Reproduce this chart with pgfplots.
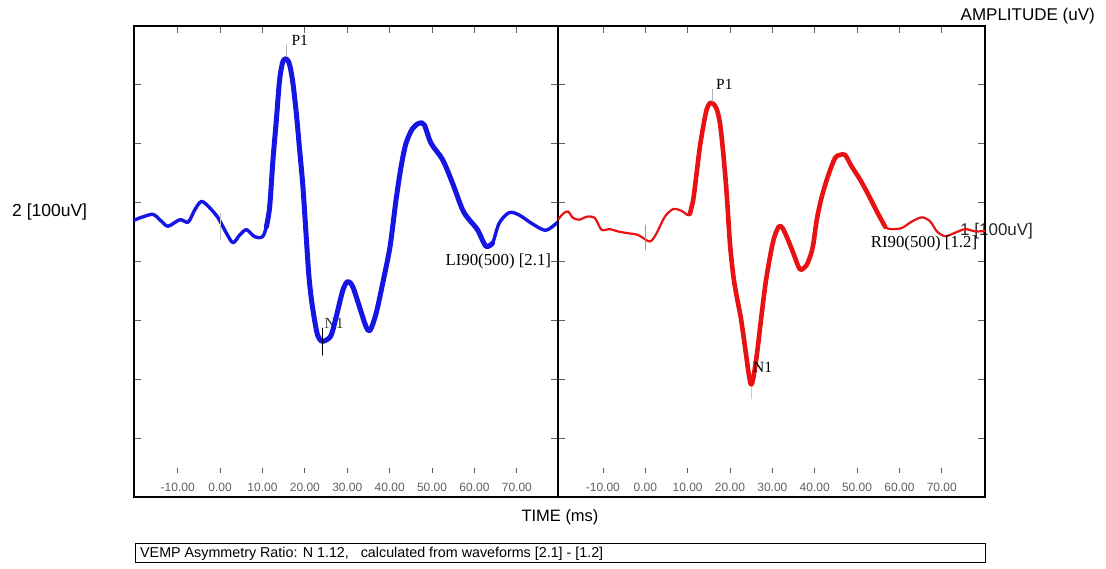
\documentclass[border=0pt]{standalone}
\usepackage{fontspec}
\setmainfont{Liberation Sans}
\newfontfamily\serifface{Liberation Serif}
\usepackage{pgfplots}
\usepackage{pgfplotstable}
\pgfplotsset{compat=1.18}
\definecolor{wblue}{RGB}{22,22,228}
\definecolor{wred}{RGB}{232,18,18}
\definecolor{tickgray}{RGB}{95,95,95}

\pgfplotstableread{
x y
-20.3 0.70
-19.66 0.72
-18.11 0.76
-15.76 0.80
-13.78 0.68
-12.23 0.60
-9.48 0.71
-7.52 0.67
-5.95 0.88
-4.37 1.02
-2.42 0.91
-0.46 0.74
1.51 0.48
3.06 0.32
4.64 0.45
6.22 0.54
8.17 0.42
9.98 0.42
10.92 0.59
11.70 0.93
12.48 1.73
13.28 2.41
14.05 3.09
14.83 3.40
15.63 3.44
16.41 3.34
17.18 3.03
17.98 2.52
18.76 1.90
19.54 1.27
20.34 0.40
20.9 -0.20
21.5 -0.62
22.3 -1.00
23.0 -1.25
23.86 -1.35
24.9 -1.34
26.21 -1.25
27.39 -0.94
28.95 -0.49
30.12 -0.34
31.30 -0.43
32.88 -0.77
34.45 -1.11
35.39 -1.17
36.81 -0.88
38.36 -0.37
39.94 0.19
40.71 0.59
41.51 1.05
42.69 1.61
43.86 2.01
45.42 2.26
46.99 2.35
48.17 2.32
49.75 2.01
52.48 1.73
54.83 1.33
57.18 0.88
58.76 0.71
60.71 0.54
62.69 0.26
64.25 0.31
65.82 0.65
68.17 0.83
70.52 0.79
73.65 0.64
76.80 0.53
79.54 0.66
79.7 0.66
}\lefttrace

\pgfplotstableread{
x y
-20.6 0.71
-19.42 0.81
-18.24 0.85
-17.05 0.74
-15.47 0.71
-13.89 0.76
-11.92 0.74
-10.34 0.54
-8.38 0.55
-6.42 0.51
-4.05 0.48
-1.69 0.45
1.08 0.34
2.66 0.48
4.62 0.76
6.59 0.89
8.57 0.86
9.99 0.79
10.53 0.81
11.32 1.05
12.12 1.50
12.90 1.95
13.68 2.29
14.48 2.58
15.26 2.69
16.04 2.68
16.85 2.59
17.63 2.35
18.41 1.84
19.21 1.16
20.0 0.30
20.8 -0.25
21.6 -0.60
22.59 -0.97
23.6 -1.48
24.4 -1.90
24.96 -2.09
25.5 -1.98
26.4 -1.55
27.4 -0.94
28.4 -0.37
29.5 0.10
30.4 0.40
31.5 0.59
32.3 0.58
33.40 0.42
34.96 0.14
36.0 -0.06
36.70 -0.14
38.0 -0.07
39.0 0.10
39.68 0.30
40.49 0.71
41.67 1.10
43.23 1.47
44.81 1.76
46.0 1.81
47.18 1.81
48.76 1.61
50.72 1.39
52.69 1.13
54.67 0.85
56.63 0.59
58.22 0.55
60.58 0.57
62.95 0.68
65.31 0.75
67.27 0.68
68.86 0.51
70.82 0.43
73.18 0.49
75.55 0.55
77.91 0.51
80.2 0.52
}\righttrace

\pgfplotsset{panel/.style={
  scale only axis, height=471pt,
  ymin=-4, ymax=4, ytick={-3,-2,-1,0,1,2,3}, yticklabels={},
  xtick={-10,0,10,20,30,40,50,60,70},
  xticklabels={-10.00,0.00,10.00,20.00,30.00,40.00,50.00,60.00,70.00},
  xtick pos=upper, xticklabel pos=lower, ytick pos=both, tick align=inside,
  major tick length=7pt, tick style={tickgray, line width=0.8pt},
  axis line style={line width=2.8pt},
  xticklabel style={anchor=base, yshift=5.7pt, inner sep=0pt,
    font=\fontsize{12}{14.4}\selectfont, text=tickgray},
  every axis plot/.append style={smooth, line join=round, line cap=round},
}}
\newcommand\bottomticks{%
  \pgfplotsinvokeforeach{-10,0,10,20,30,40,50,60,70}{%
    \draw[tickgray, line width=0.8pt] ([yshift=23.7pt]axis cs:##1,-4) -- ([yshift=29.3pt]axis cs:##1,-4);}}

\begin{document}
\begin{tikzpicture}
\useasboundingbox (0,0) rectangle (1106pt,-568pt);

\begin{axis}[panel, at={(134pt,-26pt)}, anchor=north west, width=424pt,
  xmin=-20.3, xmax=79.7]
  \bottomticks
  \node[anchor=base west, inner sep=0pt, font=\serifface\fontsize{15.5}{18}\selectfont, text=black!80] at (axis cs:24.6,-1.13) {N1};
  \addplot[no marks, wblue, line width=3.4pt] table[x=x,y=y] {\lefttrace};
  \addplot[no marks, wblue, line width=5pt, restrict x to domain=10.9:64.3] table[x=x,y=y] {\lefttrace};
  \addplot[no marks, gray!60, line width=0.8pt, sharp plot] coordinates {(15.63,3.48) (15.63,3.68)};
  \addplot[no marks, black, line width=0.9pt, sharp plot] coordinates {(24.1,-1.13) (24.1,-1.59)};
  \addplot[no marks, gray!50, line width=0.8pt, sharp plot] coordinates {(0,0.82) (0,0.37)};
  \node[anchor=base west, inner sep=0pt, font=\serifface\fontsize{15.5}{18}\selectfont] at (axis cs:16.8,3.67) {P1};
  \node[anchor=base east, inner sep=0pt, font=\serifface\fontsize{16.8}{20}\selectfont] at (axis cs:78.1,-0.06) {LI90(500) [2.1]};
\end{axis}

\node[anchor=base west, inner sep=0pt, font=\fontsize{17}{20}\selectfont, text=black!85] at (960pt,-235pt) {1 [100uV]};

\begin{axis}[panel, at={(558pt,-26pt)}, anchor=north west, width=427pt,
  xmin=-20.6, xmax=80.2]
  \bottomticks
  \addplot[no marks, wred, line width=2.2pt] table[x=x,y=y] {\righttrace};
  \addplot[no marks, wred, line width=4.6pt, restrict x to domain=10.5:56.7] table[x=x,y=y] {\righttrace};
  \addplot[no marks, gray!60, line width=0.8pt, sharp plot] coordinates {(15.73,2.72) (15.73,2.93)};
  \addplot[no marks, gray!40, line width=0.8pt, sharp plot] coordinates {(24.96,-2.13) (24.96,-2.33)};
  \addplot[no marks, gray!80, line width=0.8pt, sharp plot] coordinates {(0,0.62) (0,0.20)};
  \node[anchor=base west, inner sep=0pt, font=\serifface\fontsize{15.5}{18}\selectfont] at (axis cs:16.7,2.92) {P1};
  \node[anchor=base west, inner sep=0pt, font=\serifface\fontsize{15.5}{18}\selectfont] at (axis cs:25.4,-1.88) {N1};
  \node[anchor=base east, inner sep=0pt, font=\serifface\fontsize{16.8}{20}\selectfont] at (axis cs:78.4,0.23) {RI90(500) [1.2]};
\end{axis}

\node[anchor=base west, inner sep=0pt, font=\fontsize{17.5}{20}\selectfont] at (12pt,-216pt) {2 [100uV]};
\node[anchor=base east, inner sep=0pt, font=\fontsize{17}{20}\selectfont] at (1095pt,-20pt) {AMPLITUDE (uV)};
\node[anchor=base, inner sep=0pt, font=\fontsize{16.5}{20}\selectfont] at (560pt,-521pt) {TIME (ms)};
\draw[line width=1pt] (135pt,-543pt) rectangle (985pt,-562pt);
\node[anchor=base west, inner sep=0pt, font=\fontsize{14.3}{17}\selectfont] at (140pt,-557.5pt) {VEMP Asymmetry Ratio: N 1.12,\ \ \ calculated from waveforms [2.1] - [1.2]};
\end{tikzpicture}
\end{document}
